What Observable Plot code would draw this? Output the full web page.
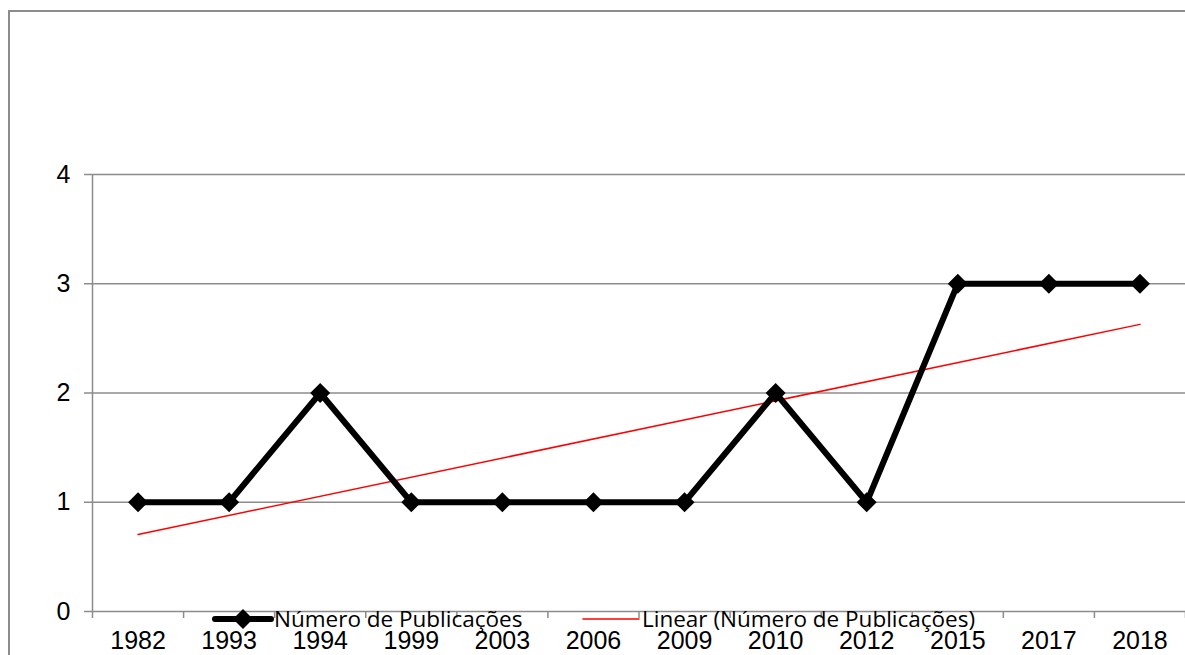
<!DOCTYPE html>
<html>
<head>
<meta charset="utf-8">
<script src="https://cdn.jsdelivr.net/npm/d3@7"></script>
<script src="https://cdn.jsdelivr.net/npm/@observablehq/plot@0.6"></script>
<style>
  html, body { margin: 0; padding: 0; background: #fff; overflow: hidden; }
  #wrap { position: relative; width: 1185px; height: 655px; overflow: hidden; }
  #wrap > svg { position: absolute; left: 0; top: 0; }
  #border { position: absolute; left: 8px; top: 10px; width: 1300px; height: 800px;
            border: 2px solid #8c8c8c; box-sizing: border-box; pointer-events: none; }
  .legend { position: absolute; top: 607px; display: flex; align-items: center;
            font-family: "Open Sans", "Noto Sans", sans-serif; font-size: 22.5px; color: #000;
            white-space: nowrap; line-height: 1; }
  .legend svg { display: block; }
</style>
</head>
<body>
<div id="wrap">
  <div id="border"></div>
</div>
<script>
// Publication counts per year
const years = ["1982", "1993", "1994", "1999", "2003", "2006", "2009", "2010", "2012", "2015", "2017", "2018"];
const counts = [1, 1, 2, 1, 1, 1, 1, 2, 1, 3, 3, 3];
const yTicks = [0, 1, 2, 3, 4];
const seriesName = "Número de Publicações";
const trendName = "Linear (Número de Publicações)";

const data = years.map((year, i) => ({pos: i + 1, year, count: counts[i]}));
const centers = data.map(d => d.pos);
const bounds = d3.range(0, years.length + 1).map(i => i + 0.5);
const gray = "#8c8c8c";

const chart = Plot.plot({
  width: 1185,
  height: 655,
  marginLeft: 92,
  marginRight: 0,
  marginTop: 174,
  marginBottom: 44,
  style: {background: "transparent", fontFamily: "Arial, 'Liberation Sans', sans-serif"},
  x: {domain: [0.5, years.length + 0.5], axis: null, label: null},
  y: {domain: [0, 4], axis: null, label: null},
  marks: [
    // horizontal gridlines
    Plot.ruleY(yTicks.filter(v => v > 0), {stroke: gray, strokeWidth: 1.5}),
    // axis lines
    Plot.ruleY([0], {stroke: gray, strokeWidth: 1.5}),
    Plot.ruleX([0.5], {stroke: gray, strokeWidth: 1.5}),
    // y axis ticks and labels
    Plot.axisY({ticks: yTicks, label: null, tickSize: 8, tickPadding: 14, stroke: gray, strokeWidth: 1.5,
                fontSize: 25, fill: "#000", tickFormat: d => String(d)}),
    // x axis tick marks at category boundaries
    Plot.axisX({ticks: bounds, label: null, tickSize: 7, stroke: gray, strokeWidth: 1.5, tickFormat: () => ""}),
    // x axis year labels at category centers
    Plot.axisX({ticks: centers, label: null, tickSize: 0, tickPadding: 20, fontSize: 25, fill: "#000",
                tickFormat: d => years[d - 1]}),
    // linear trend line
    Plot.linearRegressionY(data, {x: "pos", y: "count", stroke: "#ff0000", strokeWidth: 1.5, ci: 0}),
    // series line with diamond markers
    Plot.line(data, {x: "pos", y: "count", stroke: "#000", strokeWidth: 6, strokeLinejoin: "miter"}),
    Plot.dot(data, {x: "pos", y: "count", symbol: "diamond2", r: 9, fill: "#000", stroke: "none"})
  ]
});
document.getElementById("wrap").prepend(chart);

// legend, overlapping the bottom axis
function legendItem(left, swatch, label) {
  const div = document.createElement("div");
  div.className = "legend";
  div.style.left = left + "px";
  div.appendChild(swatch);
  const span = document.createElement("span");
  span.textContent = label;
  div.appendChild(span);
  document.getElementById("wrap").appendChild(div);
}
function swatch(color, width, diamond) {
  const svg = d3.create("svg").attr("width", 62).attr("height", 24);
  svg.append("line").attr("x1", 3).attr("x2", 59).attr("y1", 12).attr("y2", 12)
    .attr("stroke", color).attr("stroke-width", width).attr("stroke-linecap", "round");
  if (diamond) {
    svg.append("path").attr("d", "M31,2 L41,12 L31,22 L21,12 Z").attr("fill", color);
  }
  return svg.node();
}
legendItem(212, swatch("#000", 6, true), seriesName);
legendItem(580, swatch("#ff0000", 1.5, false), trendName);
</script>
</body>
</html>
